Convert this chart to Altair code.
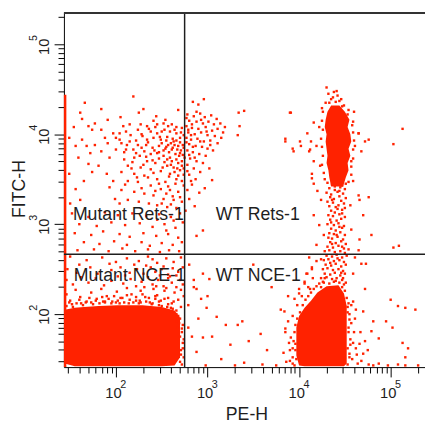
import math

import altair as alt
import pandas as pd

# plot window, log10 units (PE-H on x, FITC-H on y)
X_LO, X_HI = 1.432, 5.375
Y_LO, Y_HI = 1.411, 5.349
GATE_X, GATE_Y = 2.75, 2.665

RED = '#ff2200'
INK = '#1e1e1e'
FONT = 'Liberation Sans'

# solid blobs: x, upper edge, lower edge (log10)
blob_a_x = [1.44, 1.55, 1.65, 1.81, 2.02, 2.29, 2.50, 2.64, 2.70]
blob_a_top = [2.05, 2.07, 2.08, 2.09, 2.10, 2.10, 2.08, 2.04, 1.96]
blob_a_bot = [1.45, 1.42, 1.42, 1.42, 1.42, 1.42, 1.42, 1.43, 1.52]

blob_b_x = [3.97, 4.00, 4.06, 4.13, 4.20, 4.30, 4.43, 4.49, 4.52]
blob_b_top = [1.85, 1.98, 2.07, 2.15, 2.24, 2.31, 2.32, 2.23, 2.09]
blob_b_bot = [1.54, 1.43, 1.42, 1.42, 1.42, 1.42, 1.42, 1.42, 1.45]

# dense top of the WT Rets-1 streak: y, left edge, right edge
core_y = [4.32, 4.25, 4.16, 4.08, 4.00, 3.92, 3.84, 3.76, 3.68, 3.60, 3.52, 3.42]
core_left = [4.35, 4.31, 4.29, 4.28, 4.30, 4.29, 4.30, 4.31, 4.30, 4.32, 4.33, 4.35]
core_right = [4.44, 4.50, 4.55, 4.53, 4.56, 4.57, 4.54, 4.56, 4.53, 4.54, 4.51, 4.48]

# cells piled up on the left edge
edge_top = 4.44

# single events (log10 PE-H, log10 FITC-H)
upper_left = [
    (2.19, 4.42), (1.66, 4.35), (1.84, 4.28), (2.30, 4.28), (1.61, 4.24), (2.25, 4.24), (2.68, 4.27),
    (1.91, 4.16), (2.05, 4.19), (1.63, 4.17), (2.44, 4.20), (2.54, 4.16), (2.41, 4.15), (1.77, 4.12),
    (1.54, 4.08), (1.70, 4.09), (1.74, 4.05), (1.84, 4.05), (2.08, 4.09), (2.15, 4.11), (2.27, 4.11),
    (2.34, 4.09), (2.45, 4.11), (2.52, 4.12), (2.61, 4.11), (2.66, 4.08), (2.72, 4.07), (1.97, 4.01),
    (2.04, 4.01), (2.11, 4.03), (2.24, 4.05), (2.38, 4.03), (2.45, 4.01), (2.53, 4.05), (2.59, 4.03),
    (2.66, 4.01), (2.74, 3.99), (1.49, 3.96), (1.63, 3.94), (1.88, 3.96), (2.00, 3.96), (2.16, 3.99),
    (2.29, 3.98), (2.34, 3.94), (2.41, 3.96), (2.49, 3.94), (2.56, 3.97), (2.63, 3.92), (2.68, 3.87),
    (2.74, 3.85), (1.56, 3.87), (1.68, 3.87), (1.77, 3.88), (1.91, 3.90), (2.06, 3.90), (2.15, 3.92),
    (2.24, 3.88), (2.33, 3.88), (2.40, 3.85), (2.47, 3.87), (2.54, 3.84), (2.61, 3.83), (2.70, 3.79),
    (1.72, 3.79), (1.84, 3.81), (2.00, 3.83), (2.11, 3.83), (2.22, 3.79), (2.31, 3.81), (2.38, 3.78),
    (2.45, 3.79), (2.52, 3.76), (2.59, 3.74), (2.66, 3.72), (2.75, 3.74), (1.59, 3.74), (1.93, 3.74),
    (2.09, 3.72), (2.20, 3.74), (2.34, 3.70), (2.43, 3.68), (2.56, 3.65), (2.63, 3.63), (2.72, 3.65),
    (1.70, 3.67), (1.81, 3.65), (2.13, 3.65), (2.27, 3.63), (2.38, 3.61), (2.49, 3.59), (2.59, 3.56),
    (2.68, 3.54), (1.49, 3.56), (1.74, 3.58), (1.90, 3.56), (2.06, 3.58), (2.20, 3.56), (2.31, 3.54),
    (2.45, 3.50), (2.54, 3.47), (2.65, 3.45), (2.74, 3.43), (1.65, 3.48), (1.97, 3.48), (2.13, 3.48),
    (2.24, 3.47), (2.38, 3.43), (2.49, 3.39), (2.59, 3.38), (2.68, 3.36), (1.56, 3.39), (1.93, 3.41),
    (2.06, 3.38), (2.20, 3.36), (2.31, 3.34), (2.41, 3.32), (2.52, 3.28), (2.63, 3.27), (2.72, 3.25),
    (1.50, 3.23), (1.61, 3.27), (1.99, 3.28), (2.04, 3.23), (2.13, 3.27), (2.25, 3.25), (2.36, 3.23),
    (2.45, 3.21), (2.56, 3.19), (2.66, 3.18),
]
gate_cluster = [
    (2.60, 3.90), (2.64, 3.88), (2.70, 3.91), (2.73, 3.88), (2.62, 3.85), (2.67, 3.83), (2.71, 3.82),
    (2.58, 3.80), (2.65, 3.78), (2.69, 3.76), (2.73, 3.77), (2.57, 3.88), (2.62, 3.95), (2.70, 3.96),
    (2.55, 3.93), (2.50, 3.90), (2.52, 3.82), (2.47, 3.80), (2.66, 3.93), (2.72, 3.70), (2.68, 3.68),
    (2.61, 3.70), (2.56, 3.72), (2.70, 3.60), (2.64, 3.58), (2.74, 3.55), (2.22, 3.93), (2.28, 3.85),
    (2.35, 3.91), (2.42, 3.82), (2.48, 3.97), (2.55, 3.86), (2.19, 3.83), (2.26, 3.76), (2.33, 3.75),
    (2.40, 3.71), (2.47, 3.73), (2.53, 3.69), (2.60, 3.66), (2.67, 3.62), (2.74, 3.62), (2.28, 4.00),
    (2.36, 4.06), (2.43, 4.08), (2.50, 4.03), (2.57, 4.09), (2.64, 4.05), (2.71, 4.02), (2.18, 3.69),
    (2.30, 3.66), (2.41, 3.57), (2.51, 3.63), (2.58, 3.53), (2.66, 3.50), (2.72, 3.48), (2.35, 3.52),
    (2.47, 3.45), (2.57, 3.42), (2.62, 3.31), (2.70, 3.30), (2.55, 3.34), (2.12, 3.88), (2.04, 3.94),
    (2.09, 3.80), (2.17, 3.62), (2.23, 3.52), (2.10, 3.44), (2.28, 3.40), (2.43, 3.37), (2.50, 3.23),
    (2.60, 3.22),
]
upper_mid = [
    (3.34, 4.24), (3.40, 4.26), (3.35, 4.09), (3.33, 3.99), (3.90, 4.24), (3.85, 3.95), (3.93, 3.84),
    (4.01, 3.92), (4.02, 3.87), (2.84, 4.36), (2.96, 4.39), (2.90, 4.33),
    (2.78, 4.22), (2.85, 4.20), (2.92, 4.23), (2.97, 4.19), (3.04, 4.21), (3.10, 4.17), (2.80, 4.15),
    (2.88, 4.14), (2.95, 4.12), (3.01, 4.14), (3.07, 4.11), (3.14, 4.12), (3.19, 4.08), (2.77, 4.09),
    (2.83, 4.07), (2.90, 4.06), (2.98, 4.08), (3.05, 4.04), (3.11, 4.06), (3.17, 4.02), (2.79, 4.02),
    (2.86, 4.00), (2.93, 4.02), (3.00, 3.99), (3.08, 3.98), (3.15, 3.96), (2.77, 3.96), (2.82, 3.94),
    (2.89, 3.95), (2.96, 3.92), (3.03, 3.93), (3.11, 3.90), (2.80, 3.89), (2.87, 3.87), (2.94, 3.86),
    (3.00, 3.84), (3.06, 3.82), (2.78, 3.82), (2.84, 3.80), (2.91, 3.78), (2.98, 3.76), (2.81, 3.73),
    (2.88, 3.70), (2.95, 3.68), (2.78, 3.66), (2.85, 3.62), (2.92, 3.58), (2.80, 3.55), (2.87, 3.50),
    (2.83, 3.44), (2.78, 3.38), (2.91, 3.35), (2.80, 3.28), (2.86, 3.20), (3.02, 3.62), (3.05, 3.49),
    (2.97, 3.40), (2.76, 3.15), (2.77, 4.18), (2.79, 4.05), (2.82, 3.99), (2.77, 3.91), (2.84, 3.86),
    (2.80, 3.77), (2.86, 3.74), (2.83, 4.11), (2.88, 4.25), (2.93, 4.16), (2.99, 4.03), (3.03, 3.88),
    (2.92, 3.92), (2.78, 3.59), (2.82, 3.48),
]
rets_low = [
    (1.52, 3.12), (1.70, 3.08), (1.88, 3.13), (2.02, 3.10), (2.18, 3.12), (2.33, 3.09), (2.47, 3.11),
    (2.60, 3.08), (2.70, 3.12), (1.60, 3.00), (1.79, 2.98), (1.95, 3.02), (2.10, 2.99), (2.26, 3.01),
    (2.40, 2.97), (2.53, 3.00), (2.65, 2.96), (2.73, 3.02), (1.55, 2.90), (1.73, 2.88), (1.86, 2.92),
    (2.04, 2.89), (2.15, 2.86), (2.30, 2.90), (2.44, 2.87), (2.57, 2.89), (2.68, 2.85), (1.65, 2.80),
    (1.82, 2.78), (1.98, 2.81), (2.12, 2.77), (2.28, 2.80), (2.37, 2.76), (2.50, 2.79), (2.62, 2.77),
    (2.72, 2.80), (1.58, 2.71), (1.76, 2.72), (1.92, 2.70), (2.07, 2.73), (2.21, 2.70), (2.35, 2.72),
    (2.48, 2.69), (2.58, 2.71), (2.69, 2.70), (2.45, 3.05), (2.55, 2.93), (2.63, 3.04),
]
nce_mut = [
    (1.50, 2.64), (1.68, 2.60), (1.85, 2.63), (2.00, 2.58), (2.12, 2.62), (2.25, 2.59), (2.35, 2.64),
    (2.45, 2.57), (2.55, 2.62), (2.63, 2.58), (2.71, 2.63), (1.60, 2.55), (1.93, 2.56), (2.20, 2.55),
    (2.40, 2.61), (1.47, 2.50), (1.57, 2.46), (1.72, 2.52), (1.80, 2.45), (1.95, 2.49), (2.05, 2.52),
    (2.15, 2.46), (2.23, 2.50), (2.30, 2.45), (2.38, 2.52), (2.43, 2.47), (2.50, 2.50), (2.57, 2.44),
    (2.62, 2.51), (2.68, 2.47), (2.73, 2.52), (2.10, 2.43), (2.33, 2.54), (2.52, 2.53), (2.66, 2.43),
    (1.46, 2.38), (1.53, 2.33), (1.62, 2.41), (1.70, 2.35), (1.78, 2.40), (1.87, 2.32), (1.95, 2.37),
    (2.02, 2.42), (2.08, 2.34), (2.16, 2.39), (2.22, 2.31), (2.28, 2.36), (2.35, 2.41), (2.40, 2.33),
    (2.46, 2.38), (2.52, 2.31), (2.57, 2.40), (2.61, 2.35), (2.66, 2.30), (2.70, 2.38), (2.73, 2.33),
    (2.31, 2.30), (2.48, 2.43), (2.59, 2.42), (2.44, 2.31), (1.46, 2.22), (1.50, 2.15), (1.56, 2.27),
    (1.61, 2.19), (1.67, 2.13), (1.73, 2.24), (1.79, 2.17), (1.84, 2.28), (1.90, 2.20), (1.96, 2.14),
    (2.01, 2.25), (2.07, 2.18), (2.12, 2.29), (2.17, 2.22), (2.22, 2.15), (2.27, 2.26), (2.32, 2.19),
    (2.37, 2.13), (2.41, 2.28), (2.45, 2.21), (2.49, 2.15), (2.53, 2.26), (2.57, 2.18), (2.61, 2.12),
    (2.64, 2.24), (2.68, 2.16), (2.71, 2.27), (2.74, 2.20), (2.25, 2.12), (2.04, 2.12), (1.88, 2.13),
    (2.55, 2.29), (2.43, 2.17), (2.60, 2.03), (2.66, 2.00), (2.70, 1.95), (2.73, 1.88), (2.72, 1.80),
    (2.74, 1.72), (2.73, 1.62), (2.71, 1.55),
]
blob_a_fringe = [
    (1.46, 2.09), (1.49, 2.13), (1.53, 2.08), (1.57, 2.12), (1.60, 2.16), (1.64, 2.10), (1.68, 2.14),
    (1.71, 2.18), (1.75, 2.11), (1.78, 2.15), (1.82, 2.12), (1.85, 2.19), (1.88, 2.14), (1.92, 2.17),
    (1.95, 2.12), (1.98, 2.20), (2.02, 2.15), (2.05, 2.18), (2.09, 2.13), (2.12, 2.21), (2.15, 2.16),
    (2.19, 2.13), (2.22, 2.19), (2.26, 2.15), (2.29, 2.22), (2.33, 2.14), (2.36, 2.18), (2.40, 2.12),
    (2.43, 2.20), (2.47, 2.14), (2.50, 2.09), (2.53, 2.17), (2.57, 2.11), (2.60, 2.07), (2.63, 2.14),
    (2.66, 2.04), (2.68, 1.98), (2.71, 2.08), (2.69, 1.90), (2.72, 1.84), (2.70, 1.75), (2.73, 1.68),
    (2.71, 1.60), (2.74, 1.52), (2.70, 1.47), (2.72, 1.44), (2.67, 1.85), (2.66, 1.92), (1.52, 2.11),
    (1.62, 2.12), (1.73, 2.13), (1.86, 2.14), (2.00, 2.13), (2.14, 2.12), (2.27, 2.13), (2.39, 2.11),
    (2.47, 2.10), (2.56, 2.08), (2.62, 2.06),
]
wt_nce = [
    (2.80, 2.55), (2.85, 2.30), (2.79, 2.10), (2.90, 1.95), (2.83, 1.75), (2.95, 2.45), (3.10, 1.97),
    (3.20, 1.88), (3.33, 1.88), (3.38, 1.92), (3.05, 1.75), (3.25, 1.66), (3.45, 1.70), (3.58, 1.78),
    (3.65, 1.60), (3.80, 2.05), (3.85, 1.80), (3.70, 2.30), (3.50, 2.55), (3.00, 2.20), (2.88, 1.58),
    (3.15, 1.50), (3.40, 1.46), (3.60, 1.44), (3.75, 1.43), (2.98, 1.43), (3.30, 1.43), (3.90, 1.48),
    (3.93, 1.62), (3.88, 2.20), (2.88, 2.87), (2.95, 2.93), (2.85, 2.38), (2.88, 2.28), (2.93, 2.17),
    (3.02, 2.39), (2.79, 1.85), (2.95, 1.74), (2.99, 2.07),
]
right_side = [
    (4.59, 2.14), (4.70, 2.03), (4.81, 1.92), (4.95, 1.92), (5.00, 2.16), (5.08, 2.09), (5.16, 2.07),
    (5.27, 2.05), (5.02, 1.85), (5.13, 1.68), (5.19, 1.62), (4.87, 1.73), (4.79, 1.81), (4.66, 1.67),
    (4.55, 1.56), (4.70, 1.56), (4.81, 1.43), (4.87, 1.45), (4.97, 1.43), (5.08, 1.44), (5.16, 1.43),
    (5.30, 1.43), (4.73, 2.56), (4.65, 2.71), (5.16, 1.52), (4.50, 1.51), (4.55, 2.00), (4.57, 1.90),
    (4.60, 1.80), (4.56, 1.72), (4.62, 1.62), (4.58, 1.50), (4.64, 1.45), (4.54, 1.85), (4.61, 1.95),
    (4.67, 1.80), (4.53, 1.62), (4.59, 1.68), (4.63, 1.55), (4.68, 1.48), (4.72, 1.70), (4.75, 1.60),
    (4.76, 1.44), (4.53, 2.08), (4.57, 2.10), (4.62, 2.05), (5.13, 4.06), (5.03, 3.89), (4.76, 3.94),
    (3.91, 4.24), (3.85, 3.92), (3.94, 3.81), (4.09, 4.01), (4.12, 3.83), (4.14, 3.56), (4.16, 3.45),
    (4.60, 4.25), (4.65, 4.01), (4.66, 3.27), (4.76, 3.30), (5.09, 2.76), (5.03, 2.74),
]
streak = [
    (4.30, 4.52), (4.38, 4.47), (4.42, 4.43), (4.35, 4.39), (4.46, 4.39), (4.29, 4.35), (4.49, 4.32),
    (4.25, 4.29), (4.54, 4.27), (4.16, 4.13), (4.22, 4.08), (4.13, 3.92), (4.19, 3.87), (4.11, 3.81),
    (4.16, 3.70), (4.23, 3.65), (4.14, 3.51), (4.20, 3.37), (4.24, 3.27), (4.16, 3.10), (4.22, 2.99),
    (4.27, 2.88), (4.19, 2.77), (4.24, 2.61), (4.14, 2.50), (4.09, 2.45), (4.06, 2.34), (4.12, 2.28),
    (4.00, 2.23), (4.59, 4.14), (4.65, 4.01), (4.61, 3.87), (4.68, 3.81), (4.57, 3.70), (4.72, 3.92),
    (4.59, 3.48), (4.65, 3.32), (4.56, 3.21), (4.70, 3.10), (4.57, 2.94), (4.66, 2.83), (4.54, 2.72),
    (4.61, 2.63), (4.68, 2.56), (4.59, 2.45), (4.72, 2.28), (4.79, 2.88),
    (4.26, 4.25), (4.25, 4.15), (4.26, 4.05), (4.24, 3.95), (4.25, 3.86), (4.26, 3.76), (4.25, 3.66),
    (4.27, 3.57), (4.28, 3.50), (4.47, 4.31), (4.53, 4.22), (4.58, 4.10), (4.59, 4.02), (4.60, 3.93),
    (4.59, 3.83), (4.59, 3.73), (4.57, 3.64), (4.57, 3.55), (4.54, 3.47), (4.33, 4.35), (4.40, 4.36),
    (4.44, 4.37), (4.37, 4.41), (4.32, 4.45), (4.41, 4.48),
]
streak_mid = [
    (4.31, 3.46), (4.36, 3.44), (4.41, 3.47), (4.47, 3.43), (4.51, 3.45), (4.33, 3.40), (4.39, 3.38),
    (4.45, 3.41), (4.50, 3.39), (4.30, 3.35), (4.35, 3.33), (4.42, 3.36), (4.48, 3.34), (4.34, 3.30),
    (4.38, 3.28), (4.44, 3.31), (4.51, 3.29), (4.31, 3.25), (4.37, 3.24), (4.46, 3.26), (4.49, 3.23),
    (4.33, 3.20), (4.40, 3.19), (4.43, 3.21), (4.50, 3.18), (4.35, 3.15), (4.39, 3.13), (4.47, 3.16),
    (4.32, 3.10), (4.37, 3.09), (4.44, 3.11), (4.50, 3.08), (4.34, 3.05), (4.41, 3.04), (4.46, 3.06),
    (4.31, 3.00), (4.38, 2.99), (4.43, 3.01), (4.49, 2.98), (4.35, 2.95), (4.40, 2.93), (4.47, 2.96),
    (4.33, 2.90), (4.38, 2.89), (4.45, 2.91), (4.50, 2.88), (4.32, 2.85), (4.36, 2.84), (4.42, 2.86),
    (4.48, 2.83), (4.34, 2.80), (4.40, 2.79), (4.46, 2.81), (4.51, 2.78), (4.31, 2.75), (4.37, 2.74),
    (4.43, 2.76), (4.49, 2.73), (4.28, 2.70), (4.33, 2.71), (4.39, 2.69), (4.45, 2.70), (4.50, 2.68),
    (4.30, 2.65), (4.36, 2.64), (4.41, 2.66), (4.47, 2.63), (4.52, 2.65), (4.27, 2.60), (4.32, 2.61),
    (4.38, 2.59), (4.44, 2.60), (4.49, 2.58), (4.29, 2.55), (4.35, 2.54), (4.40, 2.56), (4.46, 2.53),
    (4.51, 2.55), (4.26, 2.50), (4.31, 2.51), (4.37, 2.49), (4.43, 2.50), (4.48, 2.48), (4.28, 2.45),
    (4.34, 2.44), (4.39, 2.46), (4.45, 2.43), (4.50, 2.45), (4.24, 2.40), (4.30, 2.41), (4.36, 2.39),
    (4.41, 2.40), (4.47, 2.38), (4.27, 2.35), (4.33, 2.34), (4.38, 2.36), (4.44, 2.35), (4.49, 2.33),
    (4.39, 3.42), (4.44, 3.37), (4.36, 3.27), (4.42, 3.17), (4.47, 3.12), (4.35, 3.02), (4.44, 2.97),
    (4.41, 2.88), (4.36, 2.78), (4.47, 2.75), (4.42, 2.62), (4.34, 2.57), (4.46, 2.46), (4.40, 2.37),
]
blob_b_edge = [
    (3.84, 2.03), (3.88, 1.92), (3.85, 1.84), (3.91, 1.74), (3.96, 1.67), (3.90, 1.60), (3.93, 1.52),
    (3.95, 2.17), (4.00, 2.28), (4.06, 2.36), (3.93, 1.98), (3.89, 1.68), (3.83, 1.57), (3.86, 1.47),
    (3.95, 1.43), (4.08, 2.45), (4.14, 2.52), (4.19, 2.59), (4.11, 2.63), (3.98, 2.10), (4.03, 2.20),
    (4.10, 2.30), (4.15, 2.40), (3.96, 1.88), (3.95, 1.80), (3.94, 1.70), (3.96, 1.60), (3.97, 1.50),
    (3.93, 1.45), (3.98, 1.95), (4.01, 2.02), (4.04, 2.10), (4.07, 2.16), (4.10, 2.20), (4.13, 2.24),
    (4.16, 2.28), (4.19, 2.31), (4.22, 2.34), (4.26, 2.36), (4.24, 2.30), (4.28, 2.40), (4.47, 2.30),
    (4.50, 2.26), (4.52, 2.18), (4.54, 2.12), (4.53, 2.02), (4.55, 1.94), (4.54, 1.80), (4.56, 1.66),
    (4.55, 1.52), (4.53, 1.44), (4.51, 2.35), (4.48, 2.40),
]

quad_labels = ['Mutant Rets-1', 'WT Rets-1', 'Mutant NCE-1', 'WT NCE-1']
label_x = [1.53, 3.09, 1.54, 3.09]
label_y = [3.10, 3.10, 2.42, 2.42]

powers = [2, 3, 4, 5]
x_ticks = [m * 10 ** e for e in range(1, 6) for m in range(1, 10)
           if X_LO <= e + math.log10(m) <= X_HI]
y_ticks = [m * 10 ** e for e in range(1, 6) for m in range(1, 10)
           if Y_LO <= e + math.log10(m) <= Y_HI]
pow_vals = [10 ** p for p in powers]

W, H = 368, 361

xs = alt.Scale(type='log', domain=[10 ** X_LO, 10 ** X_HI], nice=False)
ys = alt.Scale(type='log', domain=[10 ** Y_LO, 10 ** Y_HI], nice=False)

is_major = 'abs(log(datum.value)/LN10 - round(log(datum.value)/LN10)) < 0.01'
tick_len = {'condition': {'test': is_major, 'value': 10}, 'value': 6}
exp_expr = "'' + round(log(datum.value)/LN10)"

x_tick_axis = alt.Axis(orient='bottom', values=x_ticks, labels=False, tickSize=tick_len,
                       tickColor='black', domainColor='black', grid=False,
                       title='PE-H', titleFont=FONT, titleFontSize=18, titleFontWeight='normal',
                       titleColor=INK, titleX=186, titleY=53, titleAlign='center',
                       titleBaseline='alphabetic')
x_num_axis = alt.Axis(orient='bottom', values=pow_vals, ticks=False, domain=False, grid=False,
                      labelExpr="'10'", labelFont=FONT, labelFontSize=15, labelColor=INK,
                      labelPadding=19, labelOffset=-3, title=None)
x_exp_axis = alt.Axis(orient='bottom', values=pow_vals, ticks=False, domain=False, grid=False,
                      labelExpr=exp_expr, labelFont=FONT, labelFontSize=11, labelColor=INK,
                      labelPadding=12, labelOffset=7, title=None)

y_tick_axis = alt.Axis(orient='left', values=y_ticks, labels=False, tickSize=tick_len,
                       tickColor='black', domainColor='black', grid=False,
                       title='FITC-H', titleFont=FONT, titleFontSize=18, titleFontWeight='normal',
                       titleColor=INK, titleAngle=270, titleX=-40, titleY=179,
                       titleAlign='center', titleBaseline='alphabetic')
y_num_axis = alt.Axis(orient='left', values=pow_vals, ticks=False, domain=False, grid=False,
                      labelExpr="'10'", labelFont=FONT, labelFontSize=15, labelColor=INK,
                      labelAngle=270, labelAlign='center', labelBaseline='alphabetic',
                      labelPadding=16, labelOffset=2, title=None)
y_exp_axis = alt.Axis(orient='left', values=pow_vals, ticks=False, domain=False, grid=False,
                      labelExpr=exp_expr, labelFont=FONT, labelFontSize=11, labelColor=INK,
                      labelAngle=270, labelAlign='center', labelBaseline='alphabetic',
                      labelPadding=28, labelOffset=-7, title=None)


def events(pairs):
    df = pd.DataFrame(pairs, columns=['lx', 'ly'])
    df['pe'] = 10 ** df['lx']
    df['fitc'] = 10 ** df['ly']
    return df


blob_a = pd.DataFrame({'pe': [10 ** v for v in blob_a_x],
                       'top': [10 ** v for v in blob_a_top],
                       'bot': [10 ** v for v in blob_a_bot]})
blob_b = pd.DataFrame({'pe': [10 ** v for v in blob_b_x],
                       'top': [10 ** v for v in blob_b_top],
                       'bot': [10 ** v for v in blob_b_bot]})
core = pd.DataFrame({'fitc': [10 ** v for v in core_y],
                     'left': [10 ** v for v in core_left],
                     'right': [10 ** v for v in core_right]})

dots = events(upper_left + gate_cluster + upper_mid + rets_low + nce_mut + blob_a_fringe
              + wt_nce + right_side + streak + streak_mid + blob_b_edge)

area_a = alt.Chart(blob_a).mark_area(color=RED, opacity=1).encode(
    x=alt.X('pe:Q', scale=xs, axis=x_tick_axis),
    y=alt.Y('top:Q', scale=ys, axis=y_tick_axis),
    y2='bot:Q',
)
area_b = alt.Chart(blob_b).mark_area(color=RED, opacity=1).encode(
    x=alt.X('pe:Q', scale=xs, axis=None),
    y=alt.Y('top:Q', scale=ys, axis=None),
    y2='bot:Q',
)
streak_core = alt.Chart(core).mark_area(color=RED, opacity=1, orient='horizontal').encode(
    y=alt.Y('fitc:Q', scale=ys, axis=None),
    x=alt.X('left:Q', scale=xs, axis=None),
    x2='right:Q',
)

points = alt.Chart(dots).mark_square(size=6, color=RED, opacity=1).encode(
    x=alt.X('pe:Q', scale=xs, axis=x_num_axis),
    y=alt.Y('fitc:Q', scale=ys, axis=y_num_axis),
)

# events stuck at the lowest PE-H channel
edge = alt.Chart(pd.DataFrame({'pe': [10 ** 1.445], 'lo': [10 ** Y_LO], 'hi': [10 ** edge_top]})
                 ).mark_rule(color=RED, strokeWidth=2.5).encode(
    x=alt.X('pe:Q', scale=xs, axis=None),
    y=alt.Y('lo:Q', scale=ys, axis=None),
    y2='hi:Q',
)

# quadrant gates
vgate = alt.Chart(pd.DataFrame({'pe': [10 ** GATE_X]})).mark_rule(
    color=INK, strokeWidth=1.5).encode(x=alt.X('pe:Q', scale=xs, axis=x_exp_axis))
hgate = alt.Chart(pd.DataFrame({'fitc': [10 ** GATE_Y]})).mark_rule(
    color=INK, strokeWidth=1.5).encode(y=alt.Y('fitc:Q', scale=ys, axis=y_exp_axis))

frame_top = alt.Chart(pd.DataFrame({'fitc': [10 ** Y_HI]})).mark_rule(
    color='#333333', strokeWidth=2).encode(y=alt.Y('fitc:Q', scale=ys, axis=None))

labels = alt.Chart(pd.DataFrame({'text': quad_labels,
                                 'pe': [10 ** v for v in label_x],
                                 'fitc': [10 ** v for v in label_y]})).mark_text(
    align='left', baseline='middle', font=FONT, fontSize=18, color=INK).encode(
    x=alt.X('pe:Q', scale=xs, axis=None),
    y=alt.Y('fitc:Q', scale=ys, axis=None),
    text='text:N',
)

chart = alt.layer(
    area_a, area_b, streak_core, points, edge, vgate, hgate, frame_top, labels
).resolve_axis(
    x='independent', y='independent'
).properties(
    width=W, height=H,
    autosize=alt.AutoSizeParams(type='none'),
    padding={'left': 57, 'top': 1, 'right': 0, 'bottom': 55},
).configure_view(stroke=None)

chart.save('out.html', embed_options={'renderer': 'svg', 'actions': False})
